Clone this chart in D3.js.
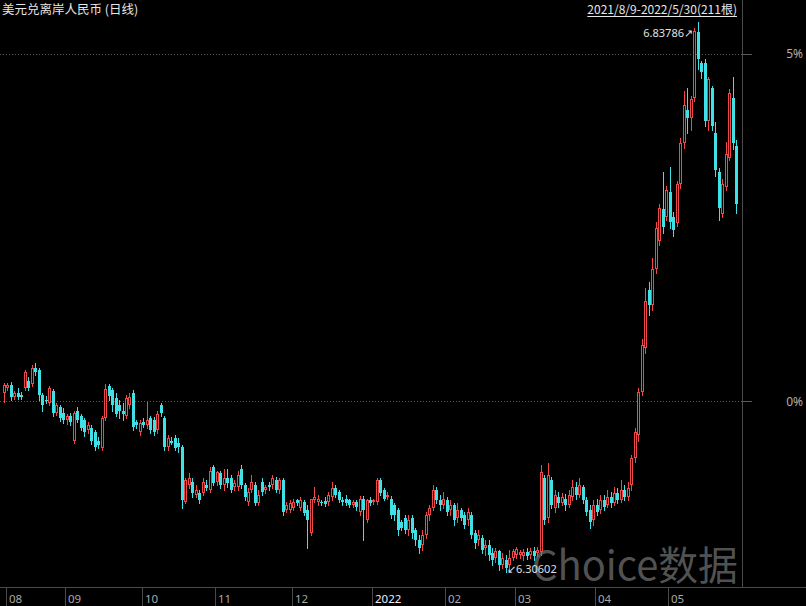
<!DOCTYPE html>
<html><head><meta charset="utf-8">
<script src="https://cdn.jsdelivr.net/npm/d3@7"></script>
<style>html,body{margin:0;padding:0;background:#000;overflow:hidden}svg{display:block}</style>
</head><body><svg id="c" width="806" height="606"></svg>
<script>
const startDate = "2021-08-09", endDate = "2022-05-30";
const monthLabels = ["08","09","10","11","12","2022","02","03","04","05"];
const title = "美元兑离岸人民币 (日线)";
const rangeText = "2021/8/9-2022/5/30(211根)";
const gridPrices = [6.4712, 6.8065];
const gridLabels = ["0%", "5%"];
const maxLabel = "6.83786", minLabel = "6.30602";

const open = [
6.479,6.484,6.487,6.475,6.479,6.477,6.484,6.491,6.488,6.503,6.501,6.477,6.472,6.469,6.481,6.460,6.465,
6.460,6.453,6.457,6.433,6.462,6.457,6.453,6.443,6.445,6.441,6.433,6.426,6.455,6.486,6.482,6.474,6.467,6.462,6.457,6.467,6.479,6.451,
6.441,6.451,6.448,6.455,6.453,6.443,6.467,6.455,6.427,6.433,6.435,6.431,6.427,6.374,6.390,6.393,6.380,6.382,6.382,6.390,6.385,
6.407,6.393,6.402,6.390,6.397,6.397,6.388,6.388,6.406,6.390,6.374,6.385,6.390,6.373,6.393,6.385,6.390,6.390,6.395,6.385,6.395,6.366,
6.366,6.368,6.376,6.368,6.374,6.366,6.344,6.376,6.374,6.374,6.375,6.374,6.378,6.387,6.383,6.376,6.377,6.376,6.371,6.374,6.364,6.377,6.356,
6.376,6.374,6.374,6.395,6.385,6.378,6.377,6.371,6.366,6.354,6.358,6.347,6.358,6.347,6.337,6.332,6.342,6.361,6.368,6.385,6.376,
6.371,6.376,6.366,6.371,6.358,6.366,6.361,6.356,6.361,6.344,6.337,6.339,6.329,6.332,6.324,6.320,6.326,6.313,6.318,6.313,
6.320,6.322,6.322,6.321,6.325,6.322,6.326,6.324,6.325,6.397,6.358,6.395,6.368,6.378,6.373,6.377,6.371,6.378,6.388,6.380,6.388,6.376,6.366,
6.356,6.371,6.366,6.376,6.371,6.378,6.373,6.382,6.376,6.385,6.378,6.390,6.416,6.438,6.480,6.522,6.578,6.564,6.599,6.626,6.657,
6.649,6.673,6.649,6.643,6.681,6.720,6.752,6.745,6.764,6.828,6.798,6.798,6.742,6.774,6.730,6.692,6.652,6.678,6.706,6.764,6.718];
const high = [
6.489,6.489,6.490,6.481,6.484,6.480,6.501,6.494,6.506,6.508,6.503,6.479,6.476,6.486,6.483,6.469,6.467,
6.464,6.459,6.460,6.462,6.465,6.459,6.455,6.451,6.448,6.443,6.436,6.457,6.488,6.488,6.484,6.479,6.472,6.469,6.477,6.479,6.482,6.453,
6.453,6.455,6.470,6.457,6.456,6.462,6.469,6.457,6.438,6.436,6.438,6.435,6.429,6.397,6.402,6.397,6.390,6.385,6.397,6.395,6.407,
6.409,6.404,6.404,6.406,6.406,6.400,6.395,6.404,6.409,6.392,6.387,6.400,6.393,6.385,6.397,6.390,6.393,6.400,6.398,6.397,6.397,6.374,
6.376,6.377,6.377,6.378,6.376,6.371,6.377,6.388,6.380,6.376,6.378,6.383,6.393,6.390,6.385,6.378,6.380,6.377,6.376,6.376,6.379,6.379,6.377,
6.378,6.377,6.397,6.397,6.387,6.383,6.379,6.373,6.368,6.356,6.361,6.361,6.361,6.349,6.342,6.347,6.364,6.371,6.390,6.388,6.380,
6.383,6.378,6.376,6.373,6.373,6.368,6.364,6.368,6.364,6.347,6.347,6.342,6.337,6.337,6.329,6.329,6.327,6.324,6.322,6.327,
6.328,6.330,6.327,6.328,6.329,6.329,6.330,6.330,6.409,6.400,6.411,6.398,6.385,6.383,6.382,6.381,6.385,6.395,6.393,6.397,6.390,6.378,6.371,
6.376,6.377,6.380,6.380,6.385,6.383,6.388,6.387,6.395,6.390,6.393,6.419,6.445,6.484,6.531,6.580,6.586,6.609,6.644,6.662,6.692,
6.679,6.697,6.654,6.684,6.725,6.771,6.774,6.766,6.832,6.83786,6.800,6.802,6.784,6.776,6.741,6.696,6.686,6.721,6.773,6.784,6.723];
const low = [
6.470,6.482,6.472,6.473,6.473,6.473,6.482,6.482,6.486,6.496,6.472,6.462,6.469,6.467,6.457,6.458,6.452,
6.450,6.449,6.448,6.431,6.451,6.443,6.437,6.440,6.430,6.424,6.426,6.424,6.453,6.472,6.462,6.457,6.455,6.453,6.455,6.464,6.443,6.445,
6.438,6.446,6.445,6.440,6.438,6.440,6.457,6.424,6.424,6.430,6.424,6.422,6.368,6.373,6.387,6.378,6.378,6.373,6.380,6.385,6.383,
6.390,6.390,6.387,6.385,6.388,6.383,6.385,6.385,6.387,6.376,6.371,6.383,6.371,6.371,6.380,6.382,6.385,6.387,6.383,6.382,6.361,6.364,
6.364,6.366,6.371,6.366,6.361,6.329,6.342,6.374,6.371,6.371,6.370,6.371,6.376,6.378,6.374,6.371,6.371,6.369,6.369,6.366,6.361,6.337,6.354,
6.371,6.372,6.372,6.380,6.376,6.377,6.358,6.356,6.342,6.347,6.344,6.342,6.339,6.332,6.324,6.327,6.339,6.356,6.366,6.373,6.366,
6.368,6.361,6.361,6.351,6.354,6.356,6.349,6.351,6.339,6.329,6.332,6.324,6.322,6.318,6.313,6.316,6.308,6.310,6.30602,6.308,
6.318,6.320,6.320,6.318,6.319,6.320,6.318,6.321,6.322,6.352,6.354,6.368,6.364,6.369,6.371,6.366,6.369,6.376,6.377,6.378,6.373,6.361,6.349,
6.351,6.361,6.363,6.366,6.369,6.369,6.371,6.373,6.374,6.376,6.376,6.385,6.412,6.433,6.477,6.518,6.554,6.559,6.595,6.622,6.634,
6.646,6.638,6.631,6.640,6.677,6.716,6.730,6.733,6.761,6.792,6.783,6.737,6.733,6.733,6.689,6.646,6.649,6.675,6.704,6.715,6.653];
const close = [
6.487,6.487,6.475,6.479,6.475,6.475,6.499,6.484,6.503,6.499,6.477,6.467,6.471,6.484,6.460,6.467,6.455,
6.453,6.457,6.451,6.460,6.453,6.445,6.441,6.448,6.433,6.427,6.429,6.455,6.483,6.476,6.467,6.459,6.462,6.459,6.474,6.475,6.446,6.448,
6.450,6.448,6.453,6.443,6.441,6.459,6.460,6.427,6.435,6.431,6.426,6.427,6.376,6.395,6.397,6.382,6.385,6.376,6.393,6.387,6.404,
6.392,6.403,6.390,6.397,6.392,6.385,6.392,6.400,6.390,6.378,6.383,6.393,6.373,6.380,6.383,6.388,6.388,6.397,6.385,6.395,6.364,6.371,
6.373,6.374,6.373,6.376,6.363,6.356,6.377,6.378,6.377,6.373,6.372,6.380,6.387,6.380,6.376,6.374,6.373,6.371,6.374,6.369,6.377,6.366,6.376,
6.373,6.376,6.395,6.382,6.377,6.380,6.361,6.361,6.347,6.349,6.347,6.356,6.344,6.337,6.329,6.342,6.361,6.368,6.385,6.376,6.371,
6.377,6.364,6.371,6.356,6.366,6.358,6.351,6.364,6.342,6.334,6.342,6.327,6.332,6.322,6.318,6.326,6.313,6.320,6.310,6.320,
6.326,6.328,6.325,6.325,6.321,6.326,6.321,6.327,6.403,6.356,6.400,6.371,6.380,6.373,6.378,6.371,6.380,6.388,6.380,6.390,6.376,6.364,6.354,
6.371,6.364,6.376,6.369,6.378,6.373,6.382,6.376,6.385,6.378,6.387,6.416,6.441,6.480,6.525,6.568,6.564,6.599,6.638,6.658,6.639,
6.675,6.644,6.636,6.681,6.720,6.757,6.745,6.763,6.829,6.802,6.789,6.742,6.782,6.737,6.694,6.658,6.681,6.710,6.769,6.720,6.662];

const UP = "#f04848", DOWN = "#3fe0e6";
const svg = d3.select("#c");
svg.append("rect").attr("width",806).attr("height",606).attr("fill","#000");

const parse = d3.utcParse("%Y-%m-%d");
const dates = d3.utcDay.range(parse(startDate), d3.utcDay.offset(parse(endDate),1))
  .filter(d => d.getUTCDay() !== 0 && d.getUTCDay() !== 6);
const data = dates.map((d,i) => ({d, i, o:open[i], h:high[i], l:low[i], c:close[i]}));

const x = d3.scaleBand().domain(d3.range(data.length)).range([2.75, 738.25]);
const y = d3.scaleLinear().domain([d3.min(low), d3.max(high)]).range([572, 21.5]);
const bw = x.bandwidth();
const cx = i => Math.round(x(i) + bw/2 - 1.5);

const plotRight = 742;
svg.append("g").selectAll("line").data(gridPrices).join("line")
  .attr("x1",0).attr("x2",plotRight).attr("y1",d=>Math.round(y(d))+0.5).attr("y2",d=>Math.round(y(d))+0.5)
  .attr("stroke","#5a5a5a").attr("stroke-width",1).attr("stroke-dasharray","1,2");

svg.append("line").attr("x1",plotRight+0.5).attr("x2",plotRight+0.5).attr("y1",0).attr("y2",587)
  .attr("stroke","#4a4a4a");
svg.append("line").attr("x1",0).attr("x2",806).attr("y1",587.5).attr("y2",587.5).attr("stroke","#4a4a4a");

const ra = svg.append("g");
ra.selectAll("line").data(gridPrices).join("line")
  .attr("x1",plotRight).attr("x2",plotRight+10).attr("y1",d=>Math.round(y(d))+0.5).attr("y2",d=>Math.round(y(d))+0.5)
  .attr("stroke","#5a5a5a");
ra.selectAll("text").data(gridPrices).join("text")
  .attr("x",803).attr("y",d=>y(d)+4.5).attr("text-anchor","end")
  .attr("font-family","'Noto Sans', 'Liberation Sans', sans-serif").attr("font-size",12)
  .attr("fill","#b0b0b0").text((d,i)=>gridLabels[i]);

const monthStarts = data.filter((p,i) => i===0 || p.d.getUTCMonth() !== data[i-1].d.getUTCMonth());
const mt = svg.append("g");
mt.selectAll("line").data(monthStarts).join("line")
  .attr("x1",p=>cx(p.i)+3.5).attr("x2",p=>cx(p.i)+3.5).attr("y1",588).attr("y2",606)
  .attr("stroke","#4a4a4a");
mt.selectAll("text").data(monthStarts).join("text")
  .attr("x",p=>cx(p.i)+6).attr("y",603)
  .attr("font-family","'Noto Sans', 'Liberation Sans', sans-serif").attr("font-size",11.5)
  .attr("fill",(p,k)=>monthLabels[k]==="2022" ? "#f0f0f0" : "#a8a8a8")
  .text((p,k)=>monthLabels[k]);

// watermark (drawn under candles)
svg.append("text").attr("x",738).attr("y",580).attr("text-anchor","end")
  .attr("font-family","'Noto Sans CJK SC', sans-serif").attr("font-size",40)
  .attr("textLength",206).attr("lengthAdjust","spacingAndGlyphs")
  .attr("fill","#9a9a9a").attr("fill-opacity",0.55).text("Choice数据");

const g = svg.append("g");
const cs = g.selectAll("g").data(data).join("g");
cs.append("line")
  .attr("x1",p=>cx(p.i)+1.5).attr("x2",p=>cx(p.i)+1.5)
  .attr("y1",p=>Math.round(y(p.h))).attr("y2",p=>Math.round(y(p.l))+1)
  .attr("stroke",p=>p.c>=p.o?UP:DOWN).attr("stroke-width",1);
cs.append("rect")
  .attr("x",p=>p.c>=p.o ? cx(p.i)+0.5 : cx(p.i))
  .attr("y",p=>{const t=Math.round(y(Math.max(p.o,p.c))); return p.c>=p.o ? t+0.5 : t;})
  .attr("width",p=>p.c>=p.o ? 2 : 3)
  .attr("height",p=>{const t=Math.round(y(Math.max(p.o,p.c))), b=Math.round(y(Math.min(p.o,p.c))); const h=Math.max(1,b-t); return p.c>=p.o ? Math.max(0.01,h-1+(h<=1?1:0)) : h;})
  .attr("fill",p=>p.c>=p.o ? "#000" : DOWN)
  .attr("stroke",p=>p.c>=p.o ? UP : "none").attr("stroke-width",1);

svg.append("text").attr("x",2).attr("y",14)
  .attr("font-family","'Noto Sans CJK SC', sans-serif").attr("font-size",12.5)
  .attr("fill","#e6e6e6").text(title);
const rt = svg.append("text").attr("x",737).attr("y",13.5).attr("text-anchor","end")
  .attr("font-family","'Noto Sans CJK SC', sans-serif").attr("font-size",12)
  .attr("fill","#e6e6e6").text(rangeText);
const bb = rt.node().getBBox();
svg.append("line").attr("x1",bb.x).attr("x2",bb.x+bb.width).attr("y1",16.5).attr("y2",16.5)
  .attr("stroke","#e6e6e6");

const iMax = d3.maxIndex(high), iMin = d3.minIndex(low);
svg.append("text").attr("x",cx(iMax)-4).attr("y",y(high[iMax])+15).attr("text-anchor","end")
  .attr("font-family","'Noto Sans', 'Liberation Sans', sans-serif").attr("font-size",11)
  .attr("fill","#e0e0e0").text(maxLabel + "↗");
svg.append("text").attr("x",cx(iMin)+2).attr("y",y(low[iMin])+0.5)
  .attr("font-family","'Noto Sans', 'Liberation Sans', sans-serif").attr("font-size",11)
  .attr("fill","#e0e0e0").text("↙" + minLabel);
</script></body></html>
